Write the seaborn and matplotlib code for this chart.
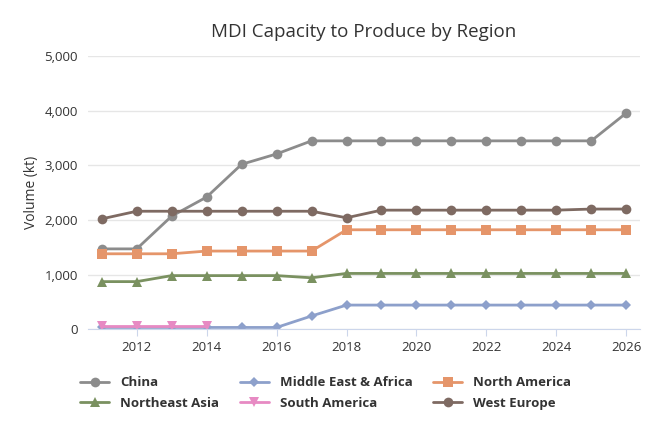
import numpy as np
import pandas as pd
import seaborn as sns
import matplotlib.pyplot as plt
from matplotlib.ticker import FuncFormatter

years = list(range(2011, 2027))
china = [1470, 1470, 2070, 2420, 3020, 3210, 3450, 3450, 3450, 3450, 3450, 3450, 3450, 3450, 3450, 3960]
northeast_asia = [870, 870, 980, 980, 980, 980, 940, 1020, 1020, 1020, 1020, 1020, 1020, 1020, 1020, 1020]
mea = [30, 30, 30, 30, 30, 30, 240, 440, 440, 440, 440, 440, 440, 440, 440, 440]
south_america = [50, 50, 50, 50] + [np.nan] * 12
north_america = [1380, 1380, 1380, 1430, 1430, 1430, 1430, 1820, 1820, 1820, 1820, 1820, 1820, 1820, 1820, 1820]
west_europe = [2020, 2160, 2160, 2160, 2160, 2160, 2160, 2040, 2180, 2180, 2180, 2180, 2180, 2180, 2200, 2200]

series = [
    ("China", china, "#8c8c8c", "o"),
    ("Northeast Asia", northeast_asia, "#7a9160", "^"),
    ("Middle East & Africa", mea, "#8da0cb", "D"),
    ("South America", south_america, "#e78ac3", "v"),
    ("North America", north_america, "#e5956a", "s"),
    ("West Europe", west_europe, "#7e6a62", "o"),
]
df = pd.concat([pd.DataFrame({"Year": years, "Volume": v, "Region": n}) for n, v, c, m in series])

sns.set_style("white")
plt.rcParams['font.family'] = ['Open Sans', 'DejaVu Sans']
fig, ax = plt.subplots(figsize=(6.5, 4.33), dpi=100)
for name, vals, color, marker in series:
    sub = df[df.Region == name]
    ms = 5 if marker == "D" else 7
    sns.lineplot(data=sub, x="Year", y="Volume", ax=ax, color=color, marker=marker,
                 markersize=ms, markeredgewidth=0, linewidth=2, label=name)

ax.set_xlim(2010.6, 2026.4)
ax.set_ylim(0, 5000)
ax.set_xticks(range(2012, 2027, 2))
ax.set_yticks(range(0, 5001, 1000))
ax.yaxis.set_major_formatter(FuncFormatter(lambda v, p: f"{int(v):,}"))
ax.grid(axis="y", color="#e6e6e6", linewidth=1)
for s in ["top", "right", "left"]:
    ax.spines[s].set_visible(False)
ax.spines["bottom"].set_color("#ccd6eb")
ax.tick_params(axis="x", length=5, color="#ccd6eb", labelsize=9.5, colors="#333333", direction="out", bottom=True)
ax.tick_params(axis="y", labelsize=9.5, colors="#333333")
ax.set_xlabel("")
ax.set_ylabel("Volume (kt)", fontsize=10, color="#333333")
ax.set_title("MDI Capacity to Produce by Region", fontsize=13.5, color="#333333", pad=14)

handles, labels = ax.get_legend_handles_labels()
leg = ax.legend(handles, labels, loc="upper left", bbox_to_anchor=(-0.035, -0.13), ncol=3,
                frameon=False, prop={"weight": "bold", "size": 9.5}, columnspacing=1.6,
                handlelength=2.2, labelspacing=0.55)
for t in leg.get_texts():
    t.set_color("#333333")

plt.subplots_adjust(left=0.135, right=0.985, top=0.87, bottom=0.24)
plt.savefig("out.png", dpi=100)
